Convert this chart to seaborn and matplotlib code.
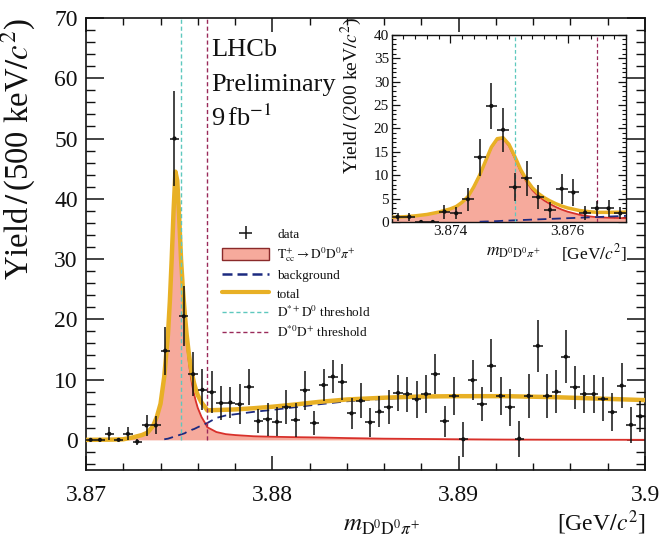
import numpy as np
import pandas as pd
import matplotlib
matplotlib.use("Agg")
import matplotlib.pyplot as plt
import seaborn as sns
from matplotlib.lines import Line2D
from matplotlib.patches import Patch
from matplotlib.ticker import MultipleLocator

# ---------------- binned candidates ----------------
# main histogram: 500 keV bins over 3.870 - 3.900 GeV
main_lo, main_width = 3.870, 0.0005
main_yield = [0.0, 0.0, 1.0, 0.0, 1.0, -0.3, 2.4, 2.4, 14.8, 50.0,
              20.5, 10.9, 8.3, 7.9, 6.1, 6.2, 5.9, 8.8, 3.1, 3.4,
              3.0, 5.4, 3.3, 8.2, 2.8, 9.1, 10.5, 9.6, 4.4, 6.5,
              2.9, 4.7, 5.4, 7.8, 7.6, 6.7, 7.6, 10.9, 3.1, 7.3,
              0.1, 9.9, 5.9, 12.3, 7.3, 5.4, 0.2, 7.3, 15.6, 7.3,
              8.0, 13.8, 8.7, 7.6, 7.6, 6.8, 4.6, 9.0, 2.5, 3.9]
main_err = [0.0, 0.0, 1.1, 0.0, 1.1, 0.5, 1.7, 1.5, 4.0, 7.8,
            5.0, 3.6, 3.4, 3.5, 2.8, 2.6, 3.3, 3.0, 2.0, 2.7,
            2.4, 2.8, 2.9, 3.3, 2.0, 2.7, 2.8, 3.0, 2.6, 2.9,
            2.4, 2.6, 2.8, 3.0, 2.9, 3.0, 3.1, 3.3, 2.6, 3.1,
            2.9, 3.3, 2.8, 4.4, 3.2, 3.1, 3.0, 3.7, 4.3, 3.6,
            3.6, 4.4, 3.5, 3.2, 3.2, 3.6, 3.2, 3.7, 3.0, 2.6]

# zoomed histogram: 200 keV bins over 3.873 - 3.877 GeV
inset_lo, inset_width = 3.873, 0.0002
inset_yield = [1.1, 1.1, 0.0, 0.0, 2.2, 1.85, 4.85, 13.8, 24.8, 19.7,
               7.4, 9.3, 5.3, 2.6, 7.1, 6.3, 2.0, 2.9, 2.9, 1.85]
inset_err = [0.8, 0.8, 0.0, 0.0, 1.5, 1.3, 2.5, 3.9, 5.0, 4.7,
             3.0, 3.7, 2.5, 1.7, 3.2, 2.8, 1.5, 1.6, 1.8, 1.3]

# ---------------- fit components ----------------
main_curve_x = [3.8700, 3.8715, 3.8720, 3.8725, 3.8730, 3.8733, 3.8736, 3.8738,
                3.8740, 3.8742, 3.8744, 3.8745, 3.8746, 3.8747, 3.8748, 3.8749,
                3.8750, 3.8751, 3.8752, 3.8753, 3.8754, 3.8755, 3.8756, 3.8757,
                3.8758, 3.8759, 3.8760, 3.8762, 3.8764, 3.87651, 3.8770, 3.8775,
                3.8780, 3.8790, 3.8800, 3.8810, 3.8825, 3.8840, 3.8860, 3.8880,
                3.8900, 3.8925, 3.8950, 3.8975, 3.9000]
main_total = [0.0, 0.05, 0.1, 0.4, 0.8, 1.2, 2.3, 3.8,
              6.0, 10.5, 17.5, 23.0, 30.0, 38.0, 44.5, 43.0,
              37.0, 30.0, 25.0, 21.0, 17.5, 14.8, 12.5, 10.8,
              9.4, 8.3, 7.4, 6.2, 5.4, 4.9, 4.95, 5.0,
              5.05, 5.25, 5.5, 5.8, 6.3, 6.7, 7.0, 7.2,
              7.25, 7.25, 7.1, 6.85, 6.6]
main_signal = [0.0, 0.05, 0.1, 0.4, 0.8, 1.2, 2.3, 3.8,
               6.0, 10.4, 17.3, 22.7, 29.6, 37.5, 43.9, 42.3,
               36.2, 29.1, 24.0, 19.9, 16.2, 13.4, 11.0, 9.1,
               7.6, 6.35, 5.3, 3.8, 2.75, 2.1, 1.3, 0.95,
               0.8, 0.6, 0.52, 0.46, 0.4, 0.3, 0.2, 0.15,
               0.1, 0.05, 0.03, 0.02, 0.01]
main_bkg = [0.0, 0.0, 0.0, 0.0, 0.0, 0.0, 0.0, 0.0,
            0.0, 0.1, 0.2, 0.3, 0.4, 0.5, 0.6, 0.7,
            0.8, 0.9, 1.0, 1.1, 1.3, 1.4, 1.5, 1.7,
            1.8, 1.95, 2.1, 2.4, 2.65, 2.8, 3.65, 4.05,
            4.25, 4.65, 4.98, 5.34, 5.9, 6.4, 6.8, 7.05,
            7.15, 7.2, 7.07, 6.83, 6.59]

inset_curve_x = [3.8730, 3.8732, 3.8734, 3.8736, 3.8738, 3.8740, 3.8741, 3.8742,
                 3.8743, 3.8744, 3.8745, 3.8746, 3.8747, 3.8748, 3.8749, 3.8750,
                 3.8751, 3.8752, 3.8753, 3.8754, 3.8755, 3.8756, 3.8757, 3.8758,
                 3.8759, 3.8760, 3.8762, 3.8764, 3.87651, 3.8767, 3.8770]
inset_total = [1.0, 1.1, 1.3, 1.6, 2.1, 2.8, 3.3, 4.2,
               5.4, 7.5, 10.0, 13.0, 16.0, 17.8, 18.0, 16.6,
               14.0, 11.2, 9.0, 7.3, 6.1, 5.2, 4.5, 3.9,
               3.4, 3.0, 2.45, 2.15, 2.05, 2.05, 2.1]
inset_signal = [1.0, 1.1, 1.3, 1.6, 2.1, 2.8, 3.3, 4.2,
                5.4, 7.5, 9.95, 12.9, 15.87, 17.62, 17.75, 16.3,
                13.65, 10.8, 8.55, 6.8, 5.55, 4.6, 3.85, 3.2,
                2.65, 2.2, 1.55, 1.15, 1.0, 0.9, 0.8]
inset_bkg = [0.0, 0.0, 0.0, 0.0, 0.0, 0.0, 0.0, 0.0,
             0.0, 0.0, 0.05, 0.1, 0.13, 0.18, 0.25, 0.3,
             0.35, 0.4, 0.45, 0.5, 0.55, 0.6, 0.65, 0.7,
             0.75, 0.8, 0.9, 1.0, 1.05, 1.15, 1.3]

# open-charm thresholds [GeV]
thr_dstp_d0 = 3.87510
thr_dst0_dp = 3.87651

# ---------------- style ----------------
c_sig_fill = "#f6aa9c"
c_sig_line = "#d8302a"
c_bkg = "#1c2a80"
c_total = "#e8b025"
c_thr1 = "#5ec8be"
c_thr2 = "#9a2a5a"
c_data = "#111111"

sns.set_theme(style="ticks")
plt.rcParams["font.family"] = ["Liberation Serif", "DejaVu Serif"]
plt.rcParams["mathtext.fontset"] = "stix"
plt.rcParams["axes.linewidth"] = 1.2
plt.rcParams["axes.edgecolor"] = "#111111"

fig = plt.figure(figsize=(6.64, 5.44), dpi=100)
ax = fig.add_axes([0.1295, 0.136, 0.8419, 0.831])
axi = fig.add_axes([0.590, 0.592, 0.353, 0.344])


def draw_panel(a, lo, width, ys, errs, cx, tot, sig, bkg, ytop, lw_tot, lw_thr):
    n = len(ys)
    centers = lo + width * (np.arange(n) + 0.5)
    data = pd.DataFrame({"m": centers, "y": ys, "e": errs})
    curves = pd.DataFrame({"m": cx, "total": tot, "signal": sig, "bkg": bkg})

    a.fill_between(curves["m"], 0, curves["signal"], color=c_sig_fill, lw=0, zorder=1)
    sns.lineplot(data=curves, x="m", y="signal", ax=a, color=c_sig_line, lw=1.3,
                 sort=False, zorder=2)
    bk = curves[curves["bkg"] > 0]
    sns.lineplot(data=bk, x="m", y="bkg", ax=a, color=c_bkg, lw=1.3,
                 linestyle=(0, (5, 3)), sort=False, zorder=3)
    sns.lineplot(data=curves, x="m", y="total", ax=a, color=c_total, lw=lw_tot,
                 sort=False, zorder=4)
    a.vlines(thr_dstp_d0, 0, ytop, colors=c_thr1, lw=lw_thr,
             linestyles=(0, (3, 2)), zorder=5)
    a.vlines(thr_dst0_dp, 0, ytop, colors=c_thr2, lw=lw_thr,
             linestyles=(0, (3, 2)), zorder=5)
    eb = a.errorbar(data["m"], data["y"], yerr=data["e"], xerr=width / 2,
                    fmt="none", ecolor=c_data, elinewidth=1.1, capsize=0, zorder=6)
    sns.scatterplot(data=data, x="m", y="y", ax=a, color=c_data, s=9,
                    edgecolor="none", zorder=7)
    return eb


eb = draw_panel(ax, main_lo, main_width, main_yield, main_err, main_curve_x,
                main_total, main_signal, main_bkg, 70, 3.2, 1.0)
draw_panel(axi, inset_lo, inset_width, inset_yield, inset_err, inset_curve_x,
           inset_total, inset_signal, inset_bkg, 40, 2.5, 0.9)

# ---------------- main axes ----------------
ax.set_xlim(3.870, 3.900)
ax.set_ylim(-5, 70)
ax.xaxis.set_minor_locator(MultipleLocator(0.002))
ax.yaxis.set_major_locator(MultipleLocator(10))
ax.yaxis.set_minor_locator(MultipleLocator(2))
ax.set_xticks([3.87, 3.88, 3.89, 3.90])
ax.set_xticklabels(["3.87", "3.88", "3.89", "3.9"])
ax.tick_params(axis="both", which="both", direction="in", top=True, right=True,
               labelsize=17, colors="#111111")
ax.tick_params(axis="y", which="major", length=13, width=1.1, pad=6)
ax.tick_params(axis="y", which="minor", length=6.5, width=1.0)
ax.tick_params(axis="x", which="major", length=10, width=1.1, pad=11)
ax.tick_params(axis="x", which="minor", length=5, width=1.0)
ax.set_xlabel("")
ax.set_ylabel(r"Yield$\,/\,$(500 keV$/c^{2}$)", fontsize=23.5, ha="right", color="#111111")
ax.yaxis.set_label_coords(-0.086, 1.0)
fig.text(0.972, 0.012, r"[GeV$/c^{2}$]", fontsize=17, ha="right", va="bottom", color="#111111")
fig.text(0.575, 0.012, r"$m_{\mathrm{D}^{0}\mathrm{D}^{0}\pi^{+}}$", fontsize=18,
         ha="center", va="bottom", color="#111111")

ax.text(0.224, 0.916, "LHCb", transform=ax.transAxes, fontsize=19, color="#111111")
ax.text(0.224, 0.838, "Preliminary", transform=ax.transAxes, fontsize=19, color="#111111")
ax.text(0.224, 0.761, r"9$\,$fb$^{-1}$", transform=ax.transAxes, fontsize=19, color="#111111")

handles = [eb,
           Patch(facecolor=c_sig_fill, edgecolor="#8a2a2a", lw=1.0),
           Line2D([], [], color=c_bkg, lw=1.8, linestyle=(0, (4, 2))),
           Line2D([], [], color=c_total, lw=3.0),
           Line2D([], [], color=c_thr1, lw=1.0, linestyle=(0, (3, 2))),
           Line2D([], [], color=c_thr2, lw=1.0, linestyle=(0, (3, 2)))]
labels = ["data",
          r"$\mathrm{T}_{\mathrm{cc}}^{+}\to\mathrm{D}^{0}\mathrm{D}^{0}\pi^{+}$",
          "background", "total",
          r"$\mathrm{D}^{*+}\mathrm{D}^{0}$ threshold",
          r"$\mathrm{D}^{*0}\mathrm{D}^{+}$ threshold"]
leg = ax.legend(handles, labels, loc="upper left", bbox_to_anchor=(0.334, 0.582),
                bbox_transform=fig.transFigure, frameon=False, fontsize=9.5,
                handlelength=3.6, handleheight=1.0, labelspacing=0.36,
                handletextpad=0.6, borderaxespad=0.0, borderpad=0.0)
for t in leg.get_texts():
    t.set_color("#111111")

# ---------------- inset axes ----------------
axi.set_xlim(3.873, 3.877)
axi.set_ylim(0, 40)
axi.set_xticks([3.874, 3.876])
axi.set_xticklabels(["3.874", "3.876"])
axi.xaxis.set_minor_locator(MultipleLocator(0.0002))
axi.yaxis.set_major_locator(MultipleLocator(5))
axi.yaxis.set_minor_locator(MultipleLocator(1))
axi.tick_params(axis="both", which="both", direction="in", top=True, right=True,
                labelsize=11, colors="#111111")
axi.tick_params(axis="both", which="major", length=6, width=0.9, pad=2)
axi.tick_params(axis="both", which="minor", length=3, width=0.8)
axi.set_xlabel("")
axi.set_ylabel(r"Yield$\,/\,$(200 keV$/c^{2}$)", fontsize=14, ha="right", color="#111111")
axi.yaxis.set_label_coords(-0.12, 1.095)
axi.text(0.635, -0.12, r"$m_{\mathrm{D}^{0}\mathrm{D}^{0}\pi^{+}}$", transform=axi.transAxes,
         fontsize=12.5, ha="right", va="top", color="#111111")
axi.text(1.0, -0.105, r"[GeV$/c^{2}$]", transform=axi.transAxes,
         fontsize=12.5, ha="right", va="top", color="#111111")
for sp in axi.spines.values():
    sp.set_linewidth(1.0)

fig.savefig("out.png", dpi=100, facecolor="white")
